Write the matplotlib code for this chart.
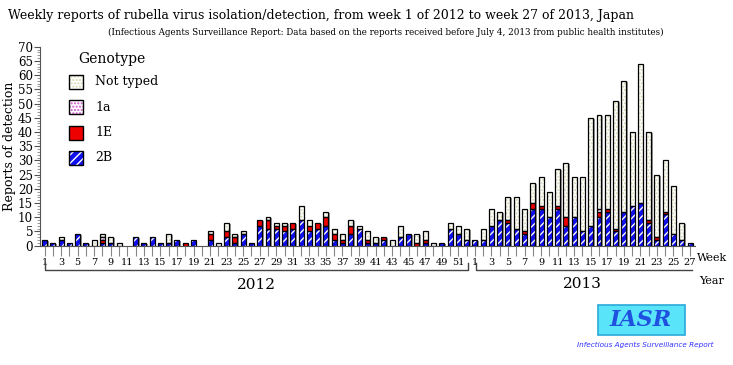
import numpy as np
import matplotlib
matplotlib.use('Agg')
import matplotlib.pyplot as plt
from matplotlib.transforms import blended_transform_factory
from matplotlib.patches import Rectangle, FancyBboxPatch

plt.rcParams['font.family'] = ['DejaVu Serif']
plt.rcParams['hatch.linewidth'] = 1.0

# week labels: 52 weeks of 2012 then 27 weeks of 2013
weeks_2012 = list(range(1, 53))
weeks_2013 = list(range(1, 28))
week_labels = weeks_2012 + weeks_2013

# counts per genotype
b2 = [2, 1, 2, 1, 4, 1, 0, 1, 1, 0, 0, 3, 1, 3, 1, 1, 2, 0, 2, 0,
      2, 0, 3, 1, 4, 1, 7, 6, 6, 5, 6, 9, 5, 6, 7, 2, 1, 4, 6, 1,
      1, 2, 0, 3, 4, 0, 1, 0, 1, 6, 4, 2,
      2, 2, 7, 9, 8, 6, 4, 13, 13, 10, 13, 7, 10, 5, 7, 10, 12, 5, 12, 14,
      15, 8, 2, 11, 4, 2, 1]
e1 = [0, 0, 0, 0, 0, 0, 0, 1, 0, 0, 0, 0, 0, 0, 0, 0, 0, 1, 0, 0,
      2, 0, 2, 2, 0, 0, 2, 3, 1, 2, 2, 0, 2, 2, 3, 2, 1, 3, 0, 1,
      0, 1, 0, 0, 0, 1, 1, 0, 0, 0, 0, 0,
      0, 0, 0, 0, 1, 0, 1, 2, 1, 0, 1, 3, 0, 0, 0, 2, 1, 1, 0, 0,
      0, 1, 1, 1, 0, 0, 0]
a1 = [0, 0, 0, 0, 0, 0, 0, 1, 0, 0, 0, 0, 0, 0, 0, 0, 0, 0, 0, 0,
      0, 0, 0, 0, 0, 0, 0, 0, 0, 0, 0, 0, 0, 0, 0, 0, 0, 0, 0, 0,
      0, 0, 0, 0, 0, 0, 0, 0, 0, 0, 0, 0,
      0, 0, 0, 0, 0, 0, 0, 0, 0, 0, 0, 0, 0, 0, 0, 1, 0, 0, 0, 0,
      0, 0, 0, 0, 0, 0, 0]
not_typed = [0, 0, 1, 0, 0, 0, 2, 1, 2, 1, 0, 0, 0, 0, 0, 3, 0, 0, 0, 0,
             1, 1, 3, 1, 1, 0, 0, 1, 1, 1, 0, 5, 2, 0, 2, 2, 2, 2, 1, 3,
             2, 0, 2, 4, 0, 3, 3, 1, 0, 2, 3, 4,
             0, 4, 6, 3, 8, 11, 8, 7, 10, 9, 13, 19, 14, 19, 38, 33, 33, 45, 46, 26,
             49, 31, 22, 18, 17, 6, 0]

x = np.arange(len(week_labels))
b2 = np.array(b2); e1 = np.array(e1); a1 = np.array(a1); nt = np.array(not_typed)
total = b2 + e1 + a1 + nt

fig = plt.figure(figsize=(7.33, 3.65), dpi=100)
ax = fig.add_axes([40 / 733, 1 - 245.7 / 365, 655 / 733, 199 / 365])

w = 0.6
# drop shadow
ax.bar(x + 0.18, total, w, bottom=-0.35, color='#9a9a9a', linewidth=0, zorder=1)

styles = [
    ('2B', b2, dict(facecolor='#1010ee', edgecolor='white', hatch='////')),
    ('1E', e1, dict(facecolor='#ee0000', edgecolor='#ee0000', hatch=None)),
    ('1a', a1, dict(facecolor='white', edgecolor='#d050d0', hatch='.....')),
    ('Not typed', nt, dict(facecolor='white', edgecolor='#d8d8b0', hatch='.....')),
]
bottom = np.zeros(len(x))
for name, vals, st in styles:
    m = vals > 0
    ax.bar(x[m], vals[m], w, bottom=bottom[m], linewidth=0, zorder=2, **st)
    ax.bar(x[m], vals[m], w, bottom=bottom[m], fill=False, edgecolor='black',
           linewidth=0.9, zorder=3)
    bottom += vals

ax.set_xlim(-0.55, 78.6)
ax.set_ylim(0, 70)
ax.spines['top'].set_visible(False)
ax.spines['right'].set_visible(False)
ax.spines['left'].set_color('#555555')
ax.spines['bottom'].set_color('#555555')

ax.set_yticks(np.arange(0, 71, 5))
ax.set_yticks(np.arange(0, 71, 1), minor=True)
ax.tick_params(axis='y', which='major', length=4, direction='out', labelsize=8.6,
               color='#555555', pad=1)
ax.tick_params(axis='y', which='minor', length=2, direction='out', color='#888888')

ax.set_xticks(x)
ax.set_xticklabels([str(v) if v % 2 == 1 else '' for v in week_labels])
ax.tick_params(axis='x', length=7, direction='out', labelsize=7, color='#888888', pad=2)
ax.set_ylabel('Reports of detection', fontsize=9)
ax.yaxis.set_label_coords(-0.036, 0.5)

fig.text(8 / 733, 1 - 16 / 365, 'Weekly reports of rubella virus isolation/detection, '
         'from week 1 of 2012 to week 27 of 2013, Japan', fontsize=9.0, va='center')
fig.text(386 / 733, 1 - 32 / 365, '(Infectious Agents Surveillance Report: Data based on the '
         'reports received before July 4, 2013 from public health institutes)',
         fontsize=6.3, ha='center', va='center')

fig.text(697 / 733, 1 - 258 / 365, 'Week', fontsize=8, va='center')
fig.text(699 / 733, 1 - 281 / 365, 'Year', fontsize=8, va='center')

# year brackets
tr = blended_transform_factory(ax.transData, fig.transFigure)
y0 = 1 - 270 / 365
y1 = 1 - 263 / 365
ax.plot([0, 0, 51.2, 51.2], [y1, y0, y0, y1], color='#444444', lw=1, transform=tr, clip_on=False)
ax.plot([52.1, 52.1, 78.2], [y1, y0, y0], color='#444444', lw=1, transform=tr, clip_on=False)
ax.text(25.6, 1 - 285 / 365, '2012', transform=tr, ha='center', va='center', fontsize=11)
ax.text(65, 1 - 284 / 365, '2013', transform=tr, ha='center', va='center', fontsize=11)

# legend
fig.text(78 / 733, 1 - 59 / 365, 'Genotype', fontsize=10, va='center')
leg_names = ['Not typed', '1a', '1E', '2B']
leg_styles = {s[0]: s[2] for s in styles}
for i, name in enumerate(leg_names):
    yc = 82 + 25.3 * i
    st = leg_styles[name]
    r = Rectangle((69 / 733, 1 - (yc + 7) / 365), 14 / 733, 14 / 365,
                  transform=fig.transFigure, linewidth=0, **st)
    fig.patches.append(r)
    r2 = Rectangle((69 / 733, 1 - (yc + 7) / 365), 14 / 733, 14 / 365,
                   transform=fig.transFigure, fill=False, edgecolor='black', linewidth=1)
    fig.patches.append(r2)
    fig.text(95 / 733, 1 - yc / 365, name, fontsize=9, va='center')

# IASR logo
logo = FancyBboxPatch((598 / 733, 1 - 335 / 365), 87 / 733, 30 / 365,
                      boxstyle='square,pad=0', transform=fig.transFigure,
                      facecolor='#5ae4fa', edgecolor='#2aa8d8', linewidth=1.2)
fig.patches.append(logo)
fig.text(641 / 733, 1 - 320 / 365, 'IASR', fontsize=16, fontstyle='italic', fontweight='bold',
         color='#2050e0', ha='center', va='center')
fig.text(645 / 733, 1 - 345 / 365, 'Infectious Agents Surveillance Report', fontsize=5.2,
         fontstyle='italic', color='#3030ff', ha='center', va='center',
         family=['DejaVu Sans'])

fig.savefig('out.png', dpi=100)
